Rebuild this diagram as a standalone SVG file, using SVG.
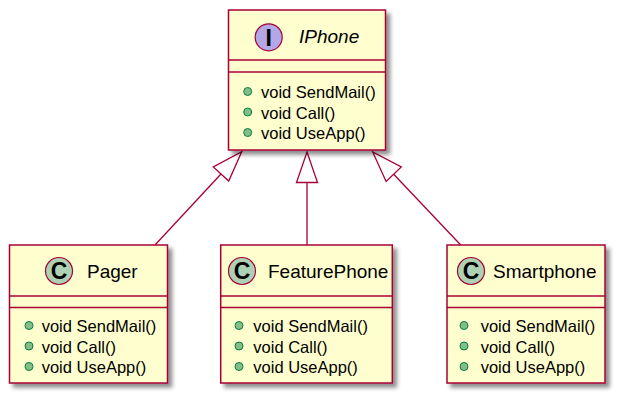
<svg xmlns="http://www.w3.org/2000/svg" width="625" height="405" viewBox="0 0 625 405">
<style>
.box{fill:#FEFECE;stroke:#A80036;stroke-width:1.5;filter:url(#sh)}
.div{stroke:#A80036;stroke-width:1.5}
.name{font-family:"Liberation Sans",Arial,sans-serif;font-size:19px;fill:#000}
.m{font-family:"Liberation Sans",Arial,sans-serif;font-size:16.5px;fill:#000}
.dot{fill:#84BE84;stroke:#038048;stroke-width:1}
.ci{fill:#B4A7E5;stroke:#A80036;stroke-width:1.2}
.cc{fill:#ADD1B2;stroke:#A80036;stroke-width:1.2}
.glyph{font-family:"Liberation Sans Narrow","Liberation Sans",Arial,sans-serif;font-size:23px;font-weight:bold;fill:#000;text-anchor:middle}
.edge{stroke:#A80036;stroke-width:1.3;fill:none}
.head{fill:#FFFFFF;stroke:#A80036;stroke-width:1.3}
</style>
<defs>
<filter id="sh" x="-10%" y="-10%" width="130%" height="130%">
<feGaussianBlur in="SourceAlpha" stdDeviation="2"/>
<feOffset dx="4" dy="4" result="b"/>
<feComponentTransfer><feFuncA type="linear" slope="0.45"/></feComponentTransfer>
<feMerge><feMergeNode/><feMergeNode in="SourceGraphic"/></feMerge>
</filter>
</defs>
<g id="connectors">
<line class="edge" x1="155" y1="245" x2="221" y2="174"/>
<polygon class="head" points="241.7,151.7 228.7,181.1 213.3,166.9"/>
<line class="edge" x1="307" y1="245" x2="307" y2="182.5"/>
<polygon class="head" points="307,152 317.5,182.5 296.5,182.5"/>
<line class="edge" x1="460.7" y1="245" x2="393.7" y2="174.2"/>
<polygon class="head" points="372.7,152 386.1,181.4 401.3,167"/>
</g>
<g id="IPhone">
<rect class="box" x="228.5" y="10" width="157" height="140"/>
<line class="div" x1="228.5" y1="60" x2="385.5" y2="60"/>
<line class="div" x1="228.5" y1="72" x2="385.5" y2="72"/>
<circle class="ci" cx="268.7" cy="37.3" r="13.5"/>
<text class="glyph" x="268.7" y="45.5">I</text>
<text class="name" x="299" y="43" font-style="italic">IPhone</text>
<circle class="dot" cx="247.7" cy="91.5" r="4"/>
<circle class="dot" cx="247.7" cy="112" r="4"/>
<circle class="dot" cx="247.7" cy="132.5" r="4"/>
<text class="m" x="261" y="98">void SendMail()</text>
<text class="m" x="261" y="118.5">void Call()</text>
<text class="m" x="261" y="139">void UseApp()</text>
</g>
<g id="Pager">
<rect class="box" x="9.5" y="245" width="158" height="138"/>
<line class="div" x1="9.5" y1="296" x2="167.5" y2="296"/>
<line class="div" x1="9.5" y1="307.5" x2="167.5" y2="307.5"/>
<circle class="cc" cx="59" cy="271" r="13.5"/>
<text class="glyph" x="59" y="279.2">C</text>
<text class="name" x="87" y="278">Pager</text>
<circle class="dot" cx="29" cy="325.5" r="4"/>
<circle class="dot" cx="29" cy="346" r="4"/>
<circle class="dot" cx="29" cy="366.5" r="4"/>
<text class="m" x="41.7" y="332">void SendMail()</text>
<text class="m" x="41.7" y="352.5">void Call()</text>
<text class="m" x="41.7" y="373">void UseApp()</text>
</g>
<g id="FeaturePhone">
<rect class="box" x="220.7" y="245" width="171.6" height="138"/>
<line class="div" x1="220.7" y1="296" x2="392.3" y2="296"/>
<line class="div" x1="220.7" y1="307.5" x2="392.3" y2="307.5"/>
<circle class="cc" cx="242" cy="271" r="13.5"/>
<text class="glyph" x="242" y="279.2">C</text>
<text class="name" x="268" y="278">FeaturePhone</text>
<circle class="dot" cx="239" cy="325.5" r="4"/>
<circle class="dot" cx="239" cy="346" r="4"/>
<circle class="dot" cx="239" cy="366.5" r="4"/>
<text class="m" x="253.3" y="332">void SendMail()</text>
<text class="m" x="253.3" y="352.5">void Call()</text>
<text class="m" x="253.3" y="373">void UseApp()</text>
</g>
<g id="Smartphone">
<rect class="box" x="447" y="245" width="158" height="138"/>
<line class="div" x1="447" y1="296" x2="605" y2="296"/>
<line class="div" x1="447" y1="307.5" x2="605" y2="307.5"/>
<circle class="cc" cx="471" cy="271" r="13.5"/>
<text class="glyph" x="471" y="279.2">C</text>
<text class="name" x="493" y="278">Smartphone</text>
<circle class="dot" cx="464" cy="325.5" r="4"/>
<circle class="dot" cx="464" cy="346" r="4"/>
<circle class="dot" cx="464" cy="366.5" r="4"/>
<text class="m" x="480.7" y="332">void SendMail()</text>
<text class="m" x="480.7" y="352.5">void Call()</text>
<text class="m" x="480.7" y="373">void UseApp()</text>
</g>
</svg>
